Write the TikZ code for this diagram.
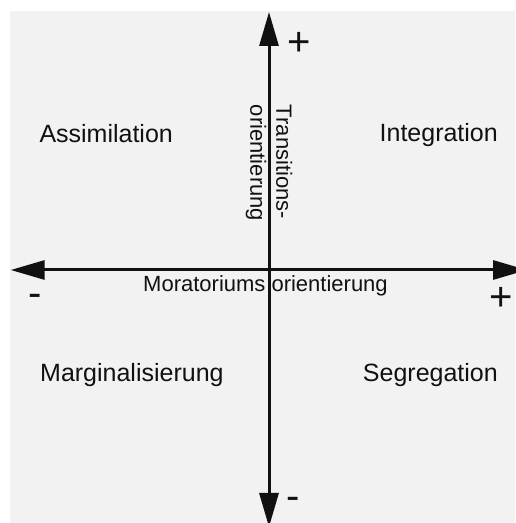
\documentclass[tikz,border=0pt]{standalone}
\usepackage{fontspec}
\setmainfont{Liberation Sans}
\usetikzlibrary{arrows.meta, positioning}
\definecolor{PanelGrey}{HTML}{F2F2F2}
\definecolor{AxisBlack}{HTML}{111111}
\tikzset{
  % Axis styles
  axisline/.style={{Triangle[length=34pt, width=19pt]}-{Triangle[length=34pt, width=19pt]}, line width=3pt, draw=AxisBlack},
  % Label styles
  quadlabel/.style={inner sep=0pt, text=AxisBlack, font=\fontsize{25}{30}\selectfont},
  axislabel/.style={inner sep=0pt, text=AxisBlack, font=\fontsize{22}{26}\selectfont, align=left},
  signlabel/.style={inner sep=0pt, text=AxisBlack, font=\fontsize{40}{44}\selectfont, anchor=base}
}
\begin{document}
\begin{tikzpicture}[x=1pt, y=1pt]
  \useasboundingbox (0,0) rectangle (515,523);
  % Panel
  \fill[PanelGrey] (10,0) rectangle (515,512);

  % Axis ends
  \coordinate (west) at (10.7,253);
  \coordinate (east) at (527,253);
  \coordinate (north) at (269,511);
  \coordinate (south) at (269,-4);

  % Axes
  \draw[axisline] (west) -- (east);
  \draw[axisline] (south) -- (north);

  % Axis labels
  \node[axislabel, anchor=base] (mora) at (265.5,231.3) {Moratoriums orientierung};
  \node[axislabel, rotate=-90] (trans) at (269,360) {Transitions-\\orientierung};

  % Signs
  \node[signlabel] (plusT) at (298.8,467.3) {+};
  \node[signlabel] (minusL) at (35,216.5) {-};
  \node[signlabel] (plusR) at (501,212.3) {+};
  \node[signlabel] (minusB) at (293.3,13.5) {-};

  % Quadrants
  \node[quadlabel, anchor=base west] (assim) at (39.3,380.3) {Assimilation};
  \node[quadlabel, anchor=base east] (integ) at (498,381.3) {Integration};
  \node[quadlabel, anchor=base west] (margi) at (40,141.3) {Marginalisierung};
  \node[quadlabel, anchor=base east] (segre) at (498,141.3) {Segregation};
\end{tikzpicture}
\end{document}
